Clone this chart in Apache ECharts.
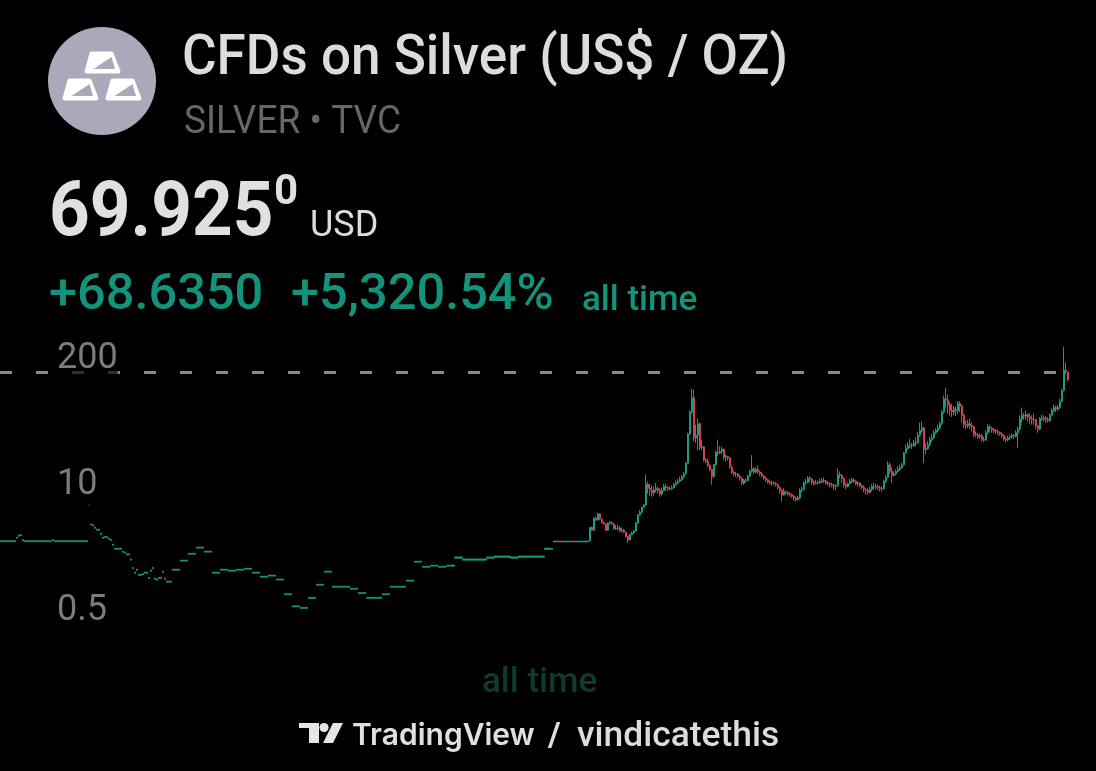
<!DOCTYPE html>
<html><head><meta charset="utf-8">
<style>html,body{margin:0;padding:0;background:#000}#c{width:1096px;height:771px}</style>
<script src="https://cdn.jsdelivr.net/npm/echarts@6/dist/echarts.min.js"></script>
</head><body><div id="c"></div>
<script>
const tickLabels = [0.5, 10, 200];
const lastPrice = 69.925;
const earlyRuns = [[1.27,8],[1.38,1],[1.45,1],[1.47,1],[1.30,1],[1.27,14],[1.31,1],[1.27,17],[3.0,1],
[1.89,1],[1.85,1],[1.75,1],[1.67,2],[1.51,1],[1.38,1],[1.40,2],[1.35,1],[1.31,1],[1.17,1],[1.06,4],[0.99,1],[0.97,1],[0.93,2],[0.82,1],[0.67,1],[0.60,1],[0.645,1],[0.57,2],[0.58,1],[0.60,2],[0.53,1],[0.63,1],[0.67,1],[0.52,1],[0.51,1],[0.53,2],[0.615,1],[0.52,1],[0.485,3],
[0.645,4],[0.80,4],[0.94,4],[1.09,4],[0.99,4],[0.60,4],[0.645,4],[0.63,4],[0.645,4],[0.66,4],[0.60,4],[0.545,4],[0.56,4],[0.51,4],[0.36,4],[0.27,4],[0.26,4],[0.33,4],[0.45,4],[0.615,4],
[0.43,9],[0.41,4],[0.37,4],[0.33,8],[0.36,4],[0.43,8],[0.497,4],[0.78,4],[0.69,4],[0.71,4],[0.69,4],[0.71,4],[0.86,4],[0.82,12],[0.86,4],[0.88,8],[0.86,4],[0.88,13],[1.06,4],[1.26,18]];
const earlyDownBars = [82,277,278,279,284,286];
const lateCloses = [1.74,1.63,2.16,2.07,2.40,2.12,1.95,1.89,1.63,1.93,1.95,1.89,1.68,1.70,1.72,1.60,1.63,1.56,1.40,1.29,1.47,1.52,1.60,1.93,2.34,2.50,2.80,2.96,4.85,
4.4,4.2,3.95,4.25,4.4,4.2,3.85,4.2,4.6,4.5,4.35,4.4,4.45,4.8,5.0,5.2,5.4,5.8,6.2,8.0,16,27,38,14.6,15.5,20.5,11.6,11.8,8.6,8.4,7.6,6.9,5.85,7.7,10.4,10.2,10.6,11.2,
9.2,9.4,9.1,7.3,6.4,6.2,6.2,5.9,5.6,5.0,5.3,5.3,5.9,6.6,7.0,6.5,6.9,6.5,6.2,5.9,5.6,5.4,5.1,5.0,5.0,4.95,4.8,4.5,4.2,3.75,4.05,4.0,3.85,3.8,3.65,3.5,3.35,
3.5,4.2,4.3,5.0,5.1,5.6,5.5,5.1,4.95,5.0,5.05,5.2,5.3,5.25,5.0,4.9,4.8,4.7,4.6,4.65,6.1,6.0,5.6,4.8,4.6,4.9,5.2,5.4,5.2,4.9,5.0,4.7,4.5,4.3,4.2,4.0,4.3,4.6,4.6,4.55,4.45,4.4,4.35,5.2,5.7,7.7,6.6,6.0,6.2,6.6,6.9,7.2,7.7,10.2,11.4,12,12.3,12.2,12.9,13.0,15.5,17.4,18.5,11.0,11.3,12.5,14,14.6,16.5,17.5,18.5,20.5,27,37,36,32,28,27,29,28,33,31,25,20,19.5,20.5,19.6,19,15.8,15.6,15,15.4,14,13.9,16.5,19,18.5,17.8,17.2,17,16.6,16,15.5,14.2,13.9,14.6,15,15.5,15.2,16.5,18,23,25,24.5,25.5,24,23,22.5,22.5,19.5,18,23,23.5,23,22.5,22,25,28,30,29,30,35,45,73,70,58];
const lateHighs = [1.76,1.78,2.2,2.25,2.45,2.42,2.14,1.98,1.90,1.96,2.02,2.0,1.92,1.84,1.84,1.78,1.74,1.68,1.58,1.42,1.50,1.58,1.64,1.97,2.38,2.62,2.86,3.05,6.1,
5.2,4.9,4.7,4.6,5.0,4.6,4.4,4.5,4.9,4.9,4.6,4.6,4.7,5.0,5.3,5.5,5.8,6.1,6.5,8.2,16.5,28,47,46,20,23,21,14,12,9,8.9,7.8,7,7.9,10.7,14,12,11.8,
11.3,9.9,9.6,9.2,7.4,6.6,6.5,6.3,6,5.7,5.5,5.6,6.1,6.9,9.7,7.3,7.2,7.6,6.7,6.5,6.0,5.8,5.5,5.3,5.3,5.2,5.1,4.9,4.6,4.3,4.4,4.2,4.1,4,3.9,3.75,3.6,
3.7,4.4,4.6,5.2,5.5,5.9,5.9,5.6,5.3,5.4,5.3,5.5,5.6,5.7,5.4,5.2,5.1,5.0,4.9,4.9,7.1,6.6,6.2,5.7,5.0,5.1,5.5,5.7,5.6,5.3,5.2,5.1,4.8,4.7,4.4,4.4,4.6,4.9,5.0,4.9,4.8,4.7,4.6,5.4,6,8.4,8.2,7.2,6.6,6.9,7.4,7.7,8.1,10.5,12.5,13,14.2,13,13.8,14.8,17,21,21.5,19,13,13.5,15,16,17.5,18.4,20,21.6,28.5,40,48,41,34,33,31,31,35,35,32,26,22,22.5,23,21,19.5,17,16.5,16.2,16,15,17.5,20.5,20,19,18.4,18,17.8,17,16.6,16,15,15.4,15.8,16.2,16,17.5,19,25,30,26.5,28,26,26.5,25,26,23,20,24,25.5,25,24.5,24,26,29.5,32,31.5,32,37,47,127,88,70];
const lateLows = [1.26,1.60,1.62,2.02,2.06,2.08,1.9,1.86,1.60,1.60,1.86,1.84,1.65,1.64,1.62,1.56,1.54,1.52,1.36,1.20,1.27,1.44,1.50,1.58,1.90,2.30,2.45,2.75,2.9,
3.9,3.7,3.6,3.7,4.0,3.9,3.6,3.7,4.1,4.1,4.1,4.2,4.25,4.4,4.7,4.9,5.1,5.3,5.6,6.1,7.9,15.5,26,13.5,13,10.9,11,11,8.3,8,7.3,6.6,4.8,5.6,7.5,9.5,9.9,10,
8.6,8.3,8.5,7.0,6.2,5.9,5.8,5.6,5.3,4.75,4.8,5,5.2,5.8,6.4,6.2,6.3,6.2,5.9,5.7,5.4,5.1,4.9,4.8,4.7,4.7,4.6,4.3,3.9,3.2,3.7,3.8,3.7,3.6,3.5,3.3,3.2,
3.3,3.4,4.0,4.2,4.8,5.0,5.1,4.8,4.7,4.8,4.8,4.9,5.0,5.0,4.8,4.7,4.5,4.5,4.3,4.2,4.6,5.6,5.0,4.5,4.3,4.5,4.8,5.0,5.0,4.7,4.6,4.5,4.3,4.0,3.8,3.8,3.9,4.1,4.3,4.3,4.2,4.1,4.1,4.3,5.0,5.6,6.2,5.0,5.8,6.0,6.4,6.7,7.0,7.6,10,11,11.4,11.2,11.8,12,12.8,15,16.5,8,9.8,11,12,13.4,14.2,16,16.8,17.8,20,26,30,26,25,24,25,24.5,26,27,21,18.6,18,18.5,18.2,17,15,14.8,14.4,14.2,13.4,13.2,13.6,16,17,16.5,16.3,16,15.6,15.2,14.6,13.6,13.2,13.4,14,14.4,14.2,14.8,11.6,17.5,21,22.5,22.5,21.5,20.5,20,20,18,16.5,17.5,22,21.5,21,21,21.5,24.5,27,27,27.5,29,34,44,66,56];

const up='#1a9a82', down='#d0424e', bodySpan=0.975;
const candles=[];
earlyRuns.forEach(([p,n])=>{for(let k=0;k<n;k++){const i=candles.length;
  candles.push(earlyDownBars.includes(i)?[p,p*bodySpan,p*bodySpan,p]:[p*bodySpan,p,p*bodySpan,p]);}});
lateCloses.forEach((c,i)=>{candles.push([i?lateCloses[i-1]:candles[candles.length-1][1],c,lateLows[i],lateHighs[i]]);});
const categories=candles.map((_,i)=>i);
const barStep=2.002;
const txt=(x,y,text,size,fill,weight,extra,scaleX)=>({type:'text',x,y,silent:true,scaleX:scaleX||1,style:Object.assign({text,fontFamily:'Roboto',fontSize:size,fontWeight:weight||400,fill,verticalAlign:'middle'},extra||{})});
const poly=(points,fill)=>({type:'polygon',silent:true,shape:{points},style:{fill}});
const barShape=(dx,dy)=>[
  {type:'polygon',silent:true,shape:{points:[[dx+5,dy],[dx+25,dy],[dx+32,dy+18],[dx,dy+18]]},style:{fill:'#fff',stroke:'#fff',lineWidth:4,lineJoin:'round'}},
  poly([[dx+7,dy+15.5],[dx+25,dy+3.5],[dx+28.5,dy+15.5]],'#a9a9b9')
];
const chart=echarts.init(document.getElementById('c'),null,{width:1096,height:771});
chart.setOption({
 backgroundColor:'#000',animation:false,
 grid:{left:0,top:327.8,width:candles.length*barStep,height:290.6,containLabel:false},
 tooltip:{show:false},
 xAxis:{type:'category',data:categories,show:false,boundaryGap:true},
 yAxis:{type:'log',logBase:10,min:0.2,max:200,position:'left',z:5,
   axisLine:{show:false},axisTick:{show:false},splitLine:{show:false},minorTick:{show:false},
   axisLabel:{inside:true,margin:57,customValues:tickLabels,color:'#7c7c7c',fontFamily:'Roboto',fontSize:36,verticalAlign:'top',lineHeight:62,align:'left',backgroundColor:'rgba(0,0,0,0.68)',showMinLabel:true,showMaxLabel:true,hideOverlap:false,
     formatter:v=>String(+(+v).toPrecision(3))}},
 series:[
  {type:'candlestick',data:candles,barWidth:1.6,large:false,progressive:0,clip:false,
   itemStyle:{color:up,color0:down,borderColor:up,borderColor0:down,borderWidth:1},
   markLine:{silent:true,symbol:'none',animation:false,label:{show:false},lineStyle:{type:[12,24],color:'#8a8a8a',width:3,opacity:1},data:[{yAxis:lastPrice}]}}],
 graphic:[
   {type:'circle',silent:true,shape:{cx:102,cy:81,r:54},style:{fill:'#a9a9b9'}},
   ...barShape(86.5,53.5),...barShape(64.5,80.5),...barShape(107.5,80.5),
   txt(182,60,'CFDs on Silver (US$ / OZ)',56,'#dcdcdc',500,null,0.947),
   txt(184,123,'SILVER • TVC',39,'#666666',400,null,0.95),
   txt(49,216,'69.925',76,'#e0e0e0',700,null,0.935),
   txt(274,193,'0',42,'#e0e0e0',700),
   txt(310,227,'USD',36,'#dcdcdc',400),
   txt(49,296,'+68.6350',50.5,'#12937c',500),
   txt(291,296,'+5,320.54%',50.5,'#12937c',500),
   txt(582,301,'all time',35,'#12937c',500),
   txt(482,683,'all time',35,'#0f3a30',500),
   poly([[299,723],[319,723],[319,743],[309,743],[309,728],[299,728]],'#e6e6e6'),
   {type:'circle',silent:true,shape:{cx:324,cy:727.5,r:4.6},style:{fill:'#e6e6e6'}},
   poly([[333,723],[343,723],[333,743],[323,743]],'#e6e6e6'),
   txt(352,736,'TradingView',30,'#e0e0e0',600,{fontFamily:'Inter'}),
   txt(548,737,'/',34,'#dcdcdc',700),
   txt(577,737,'vindicatethis',35.4,'#dcdcdc',500)
 ]
});
</script></body></html>
